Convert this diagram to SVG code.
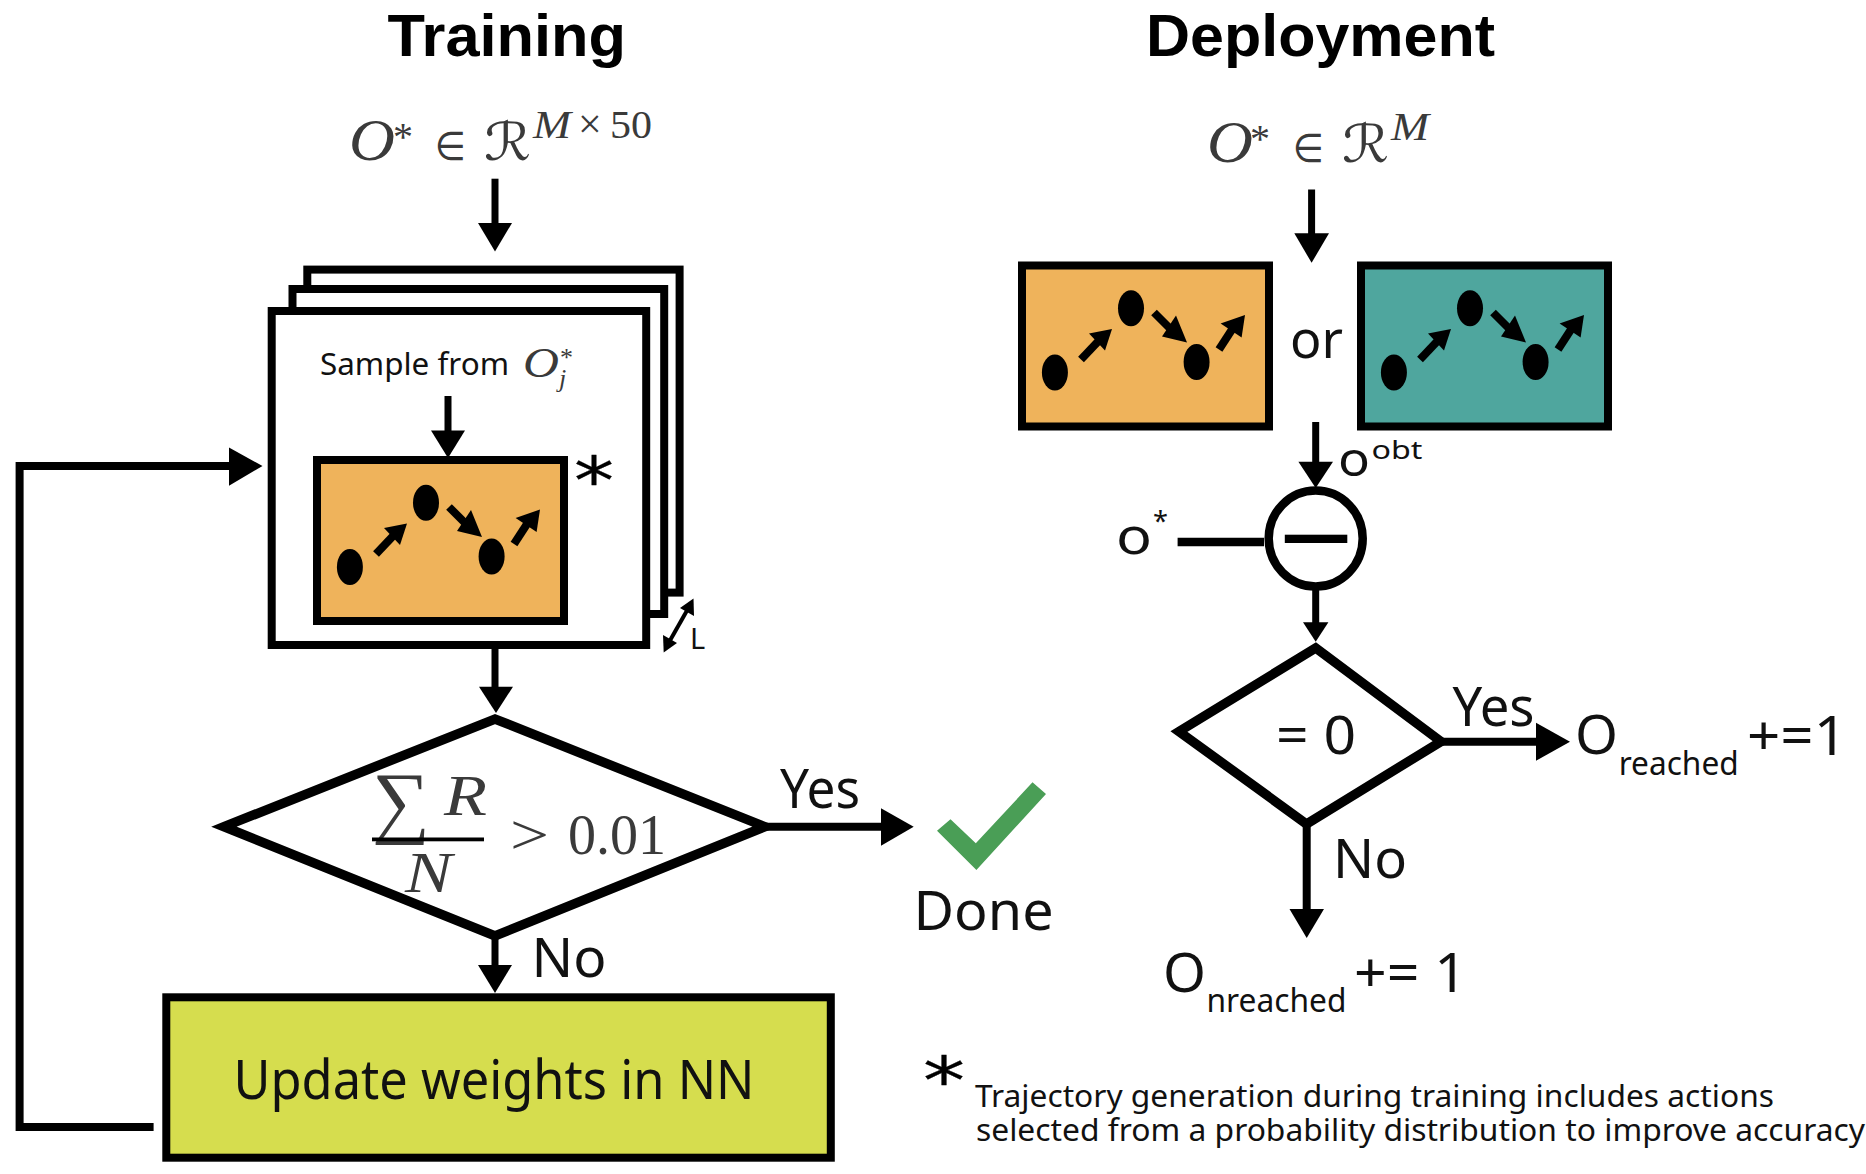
<svg xmlns="http://www.w3.org/2000/svg" xmlns:xlink="http://www.w3.org/1999/xlink" width="1866" height="1174" viewBox="0 0 1866 1174">
<style>
text{fill:#111}
.title{font-family:"Liberation Sans",Arial,sans-serif;font-weight:700;font-size:60px;fill:#000}
.t{font-family:"Noto Sans","Open Sans",sans-serif}
.l{font-size:55px}
.m{font-family:"Liberation Serif","DejaVu Serif",serif;fill:#3a3a3a}
.mi{font-family:"Liberation Serif","DejaVu Serif",serif;font-style:italic;fill:#3a3a3a}
.sym{font-family:"DejaVu Sans",sans-serif;fill:#3a3a3a}
.star{font-family:"DejaVu Sans",sans-serif;fill:#000;stroke:#000;stroke-width:0.300}
.box{stroke:#000;stroke-width:8}
.wh{fill:#fff;stroke:#000;stroke-width:8}
.dia{fill:#fff;stroke:#000;stroke-width:9.500;stroke-linejoin:miter}
.ln{fill:none;stroke:#000;stroke-width:8}
.hd{fill:#000;stroke:none}
</style>
<defs>
<g id="traj">
<ellipse cx="36.900" cy="111" rx="13" ry="18"/>
<ellipse cx="113" cy="46.800" rx="13" ry="18"/>
<ellipse cx="178.600" cy="100.600" rx="13" ry="18"/>
<g fill="none" stroke="#000" stroke-width="8">
<path d="M63 98 L81 79"/><path d="M136 51 L152 67"/><path d="M201 88 L214 68"/>
</g>
<polygon points="94,67.500 71,72 87,89"/>
<polygon points="169,81 158,54 144,75"/>
<polygon points="227,53.600 202.600,62 223.600,76"/>
</g>
</defs>

<g id="title-training"><text class="title" x="387.500" y="55.500" textLength="238.500" lengthAdjust="spacingAndGlyphs">Training</text></g>
<g id="title-deployment"><text class="title" x="1146" y="55.500" textLength="349" lengthAdjust="spacingAndGlyphs">Deployment</text></g>

<g id="input-training">
<text class="mi" x="349" y="160" font-size="59" textLength="46" lengthAdjust="spacingAndGlyphs">O</text>
<text class="m" x="393" y="150" font-size="40">*</text>
<text class="sym" x="435" y="160" font-size="40" textLength="31" lengthAdjust="spacingAndGlyphs">∈</text>
<text class="sym" x="484" y="160" font-size="52" font-style="italic" textLength="47" lengthAdjust="spacingAndGlyphs">ℛ</text>
<text class="mi" x="533" y="138" font-size="39" textLength="38" lengthAdjust="spacingAndGlyphs">M</text>
<text class="m" x="578" y="138" font-size="42">×</text>
<text class="m" x="610" y="138" font-size="39" textLength="42" lengthAdjust="spacingAndGlyphs">50</text>
</g>
<g id="input-deployment">
<text class="mi" x="1207" y="162" font-size="59" textLength="46" lengthAdjust="spacingAndGlyphs">O</text>
<text class="m" x="1250" y="152" font-size="40">*</text>
<text class="sym" x="1293" y="162" font-size="40" textLength="31" lengthAdjust="spacingAndGlyphs">∈</text>
<text class="sym" x="1342" y="162" font-size="52" font-style="italic" textLength="47" lengthAdjust="spacingAndGlyphs">ℛ</text>
<text class="mi" x="1391" y="140" font-size="39" textLength="38" lengthAdjust="spacingAndGlyphs">M</text>
</g>

<g id="stack">
<rect class="wh" x="307.300" y="269.600" width="372.300" height="323"/>
<rect class="wh" x="292.500" y="289" width="371.700" height="325"/>
<rect class="wh" x="271.700" y="311" width="374.500" height="334"/>
</g>
<g id="sample-label">
<text class="t" x="320" y="375" font-size="30" textLength="189" lengthAdjust="spacingAndGlyphs">Sample from</text>
<text class="mi" x="523" y="377" font-size="42" textLength="36" lengthAdjust="spacingAndGlyphs">O</text>
<text class="m" x="560" y="366" font-size="26">*</text>
<text class="mi" x="559" y="387" font-size="26">j</text>
</g>
<g id="sample-box">
<rect class="box" fill="#EFB35B" x="317" y="460" width="247" height="161"/>
<use xlink:href="#traj" href="#traj" x="313" y="456"/>
</g>
<g id="star-1"><text class="star" x="574" y="504" font-size="66" textLength="40" lengthAdjust="spacingAndGlyphs">*</text></g>

<g id="L-label"><text class="t" x="690" y="649" font-size="29">L</text></g>

<g id="decision-training">
<polygon class="dia" points="224,826.700 495,719 765,826.700 495,936"/>
<text class="m" x="372" y="828" font-size="80" textLength="58" lengthAdjust="spacingAndGlyphs">∑</text>
<text class="mi" x="444" y="815" font-size="58" textLength="43" lengthAdjust="spacingAndGlyphs">R</text>
<rect class="hd" x="372" y="837.500" width="112" height="3.800"/>
<text class="mi" x="405" y="891.700" font-size="58" textLength="47" lengthAdjust="spacingAndGlyphs">N</text>
<text class="m" x="510" y="854" font-size="58" textLength="39" lengthAdjust="spacingAndGlyphs">&gt;</text>
<text class="m" x="568" y="854" font-size="58" textLength="98" lengthAdjust="spacingAndGlyphs">0.01</text>
</g>
<g id="label-yes-training"><text class="t l" x="780" y="808" textLength="80" lengthAdjust="spacingAndGlyphs">Yes</text></g>
<g id="done">
<polygon fill="#4A9E56" points="937,830.700 976.400,870 1046,794 1032.500,782.300 975.800,843.300 950.500,819.300"/>
<text class="t l" x="913.500" y="930" textLength="140" lengthAdjust="spacingAndGlyphs">Done</text>
</g>
<g id="label-no-training"><text class="t l" x="531.500" y="976.700" textLength="75" lengthAdjust="spacingAndGlyphs">No</text></g>
<g id="update-box">
<rect class="box" fill="#D6DD4E" x="166.300" y="997.300" width="664.500" height="160.400"/>
<text class="t l" x="233.500" y="1099" textLength="521" lengthAdjust="spacingAndGlyphs">Update weights in NN</text>
</g>

<g id="box-orange">
<rect class="box" fill="#EFB35B" x="1022" y="265.500" width="247" height="161"/>
<use xlink:href="#traj" href="#traj" x="1018" y="261.500"/>
</g>
<g id="label-or"><text class="t" x="1290" y="357.800" font-size="52" textLength="53" lengthAdjust="spacingAndGlyphs">or</text></g>
<g id="box-teal">
<rect class="box" fill="#4FA69E" x="1361" y="265.500" width="247" height="161"/>
<use xlink:href="#traj" href="#traj" x="1357" y="261.500"/>
</g>
<g id="label-oobt">
<text class="t" x="1338" y="475.700" font-size="48" textLength="32" lengthAdjust="spacingAndGlyphs">o</text>
<text class="t" x="1371.500" y="458.800" font-size="26" textLength="51" lengthAdjust="spacingAndGlyphs">obt</text>
</g>
<g id="label-ostar">
<text class="t" x="1116" y="553.800" font-size="50" textLength="36" lengthAdjust="spacingAndGlyphs">o</text>
<text class="t" x="1153" y="531" font-size="28" textLength="15" lengthAdjust="spacingAndGlyphs">*</text>
</g>
<g id="subtract">
<ellipse fill="#fff" stroke="#000" stroke-width="8.500" cx="1315.700" cy="538.600" rx="47" ry="48"/>
<rect class="hd" x="1284.800" y="534.700" width="62.500" height="8.300"/>
</g>
<g id="decision-deployment">
<polygon class="dia" points="1179,731.500 1315.700,648 1441,741.500 1306.500,824"/>
<text class="t" x="1276" y="754" font-size="52" textLength="80" lengthAdjust="spacingAndGlyphs">= 0</text>
</g>
<g id="label-yes-deployment"><text class="t l" x="1452.500" y="726" textLength="82" lengthAdjust="spacingAndGlyphs">Yes</text></g>
<g id="result-reached">
<text class="t l" x="1575" y="754" textLength="43" lengthAdjust="spacingAndGlyphs">O</text>
<text class="t" x="1618.700" y="775" font-size="32" textLength="120" lengthAdjust="spacingAndGlyphs">reached</text>
<text class="t l" x="1747" y="755" textLength="100" lengthAdjust="spacingAndGlyphs">+=1</text>
</g>
<g id="label-no-deployment"><text class="t l" x="1333" y="877.700" textLength="74" lengthAdjust="spacingAndGlyphs">No</text></g>
<g id="result-nreached">
<text class="t l" x="1163" y="991.700" textLength="43" lengthAdjust="spacingAndGlyphs">O</text>
<text class="t" x="1206.500" y="1011.700" font-size="32" textLength="140" lengthAdjust="spacingAndGlyphs">nreached</text>
<text class="t l" x="1354" y="991.700" textLength="113" lengthAdjust="spacingAndGlyphs">+= 1</text>
</g>
<g id="footnote">
<text class="star" x="923" y="1104" font-size="66" textLength="42" lengthAdjust="spacingAndGlyphs">*</text>
<text class="t" x="975" y="1106.700" font-size="31" textLength="799" lengthAdjust="spacingAndGlyphs">Trajectory generation during training includes actions</text>
<text class="t" x="976" y="1140.700" font-size="31" textLength="889" lengthAdjust="spacingAndGlyphs">selected from a probability distribution to improve accuracy</text>
</g>

<g id="connectors">
<path class="ln" style="stroke-width:7" d="M495 178.700V225"/><polygon class="hd" points="478,223 512,223 495,251.500"/>
<path class="ln" style="stroke-width:7" d="M448 396V432"/><polygon class="hd" points="431,430.600 465,430.600 448,458"/>
<path class="ln" style="stroke-width:7" d="M495 649V688"/><polygon class="hd" points="479,686.700 513,686.700 496,713"/>
<path class="ln" d="M765 826.700H883"/><polygon class="hd" points="881,808.300 913.700,826.700 881,845.700"/>
<path class="ln" style="stroke-width:7" d="M495 938V967"/><polygon class="hd" points="478,965 512,965 495,993"/>
<path class="ln" d="M153.600 1127H19.600V466H231"/><polygon class="hd" points="229,447.500 262.500,466 229,485.700"/>
<path fill="none" stroke="#000" stroke-width="4" d="M689 607L668 644"/>
<polygon class="hd" points="693.500,598.400 694,616 680,608"/><polygon class="hd" points="663.700,652.600 663,635 677,643"/>
<path class="ln" style="stroke-width:7" d="M1311.600 189.500V235"/><polygon class="hd" points="1294.300,233.300 1329,233.300 1311.600,262.800"/>
<path class="ln" style="stroke-width:7" d="M1315.700 422V463"/><polygon class="hd" points="1298.400,461.800 1333,461.800 1315.700,487.900"/>
<path class="ln" style="stroke-width:8.500" d="M1177.600 542H1264"/>
<path class="ln" style="stroke-width:7" d="M1315.700 590V624"/><polygon class="hd" points="1303,622.300 1328.400,622.300 1315.700,641.800"/>
<path class="ln" d="M1441 741.700H1538"/><polygon class="hd" points="1536,722.700 1570,741.700 1536,760.700"/>
<path class="ln" d="M1306.700 824V911"/><polygon class="hd" points="1289.500,909 1324,909 1306.700,938"/>
</g>
</svg>
